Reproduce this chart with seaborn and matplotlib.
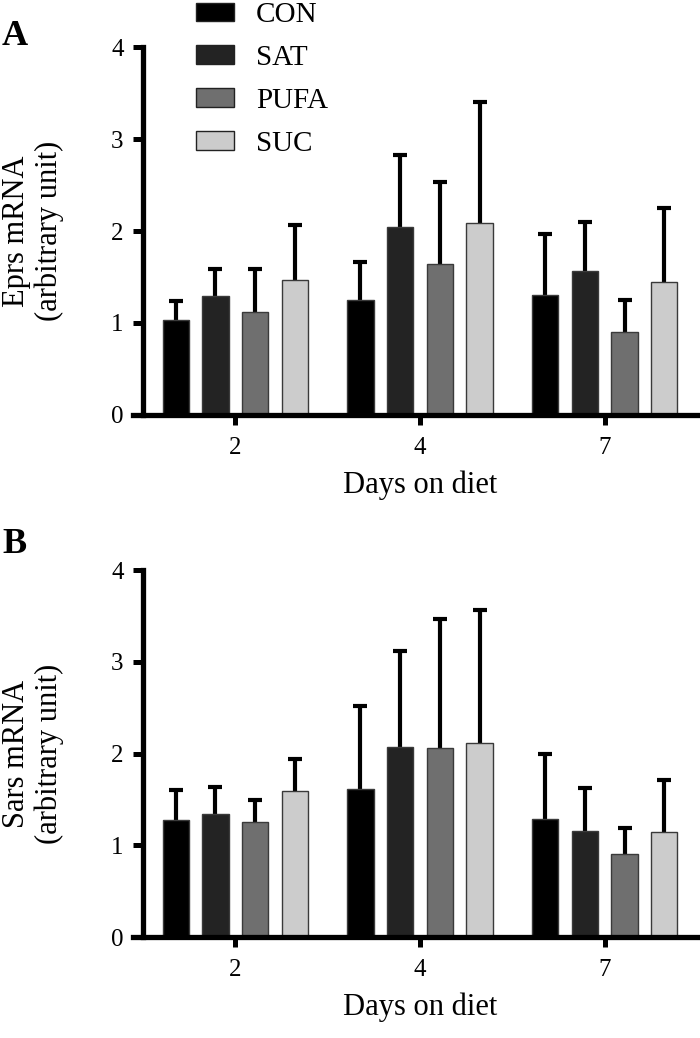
import numpy as np
import pandas as pd
import matplotlib
matplotlib.use('Agg')
import matplotlib.pyplot as plt
from matplotlib.patches import Patch
import seaborn as sns

# data (mean and upper error)
days = ['2', '4', '7']
groups = ['CON', 'SAT', 'PUFA', 'SUC']
colors = ['#000000', '#232323', '#6f6f6f', '#cccccc']

eprs_mean = {'CON': [1.03, 1.245, 1.30],
             'SAT': [1.29, 2.04, 1.56],
             'PUFA': [1.12, 1.64, 0.90],
             'SUC': [1.47, 2.09, 1.45]}
eprs_err = {'CON': [0.21, 0.42, 0.67],
            'SAT': [0.30, 0.79, 0.54],
            'PUFA': [0.47, 0.89, 0.35],
            'SUC': [0.59, 1.31, 0.80]}

sars_mean = {'CON': [1.28, 1.61, 1.29],
             'SAT': [1.34, 2.07, 1.16],
             'PUFA': [1.25, 2.06, 0.90],
             'SUC': [1.59, 2.11, 1.15]}
sars_err = {'CON': [0.32, 0.91, 0.71],
            'SAT': [0.30, 1.05, 0.46],
            'PUFA': [0.24, 1.41, 0.29],
            'SUC': [0.35, 1.45, 0.56]}

panels = [('A', 'Eprs mRNA\n(arbitrary unit)', eprs_mean, eprs_err),
          ('B', 'Sars mRNA\n(arbitrary unit)', sars_mean, sars_err)]

sns.set_style('ticks')
plt.rcParams['font.family'] = ['Liberation Serif', 'DejaVu Serif']
plt.rcParams.update({'axes.edgecolor': 'black', 'xtick.color': 'black',
                     'ytick.color': 'black', 'text.color': 'black',
                     'axes.labelcolor': 'black'})

fig = plt.figure(figsize=(7, 10.38), dpi=100)
ax_pos = [[0.2043, 0.6002, 0.7914, 0.3545],
          [0.2043, 0.0973, 0.7914, 0.3535]]
letter_y = [0.9566, 0.4672]

for i, (letter, ylab, means, errs) in enumerate(panels):
    ax = fig.add_axes(ax_pos[i])
    rows = []
    for g in groups:
        for d, m in zip(days, means[g]):
            rows.append({'day': d, 'group': g, 'value': m})
    df = pd.DataFrame(rows)

    sns.barplot(data=df, x='day', y='value', hue='group', order=days,
                hue_order=groups, palette=colors, errorbar=None,
                width=0.86, gap=0.34, edgecolor='#3a3a3a', linewidth=1,
                legend=False, ax=ax)
    bar_conts = list(ax.containers)

    # upper-only error bars, drawn behind the bars
    for cont, g in zip(bar_conts, groups):
        xs = [p.get_x() + p.get_width() / 2 for p in cont]
        ys = means[g]
        eb = ax.errorbar(xs, ys, yerr=[np.zeros(len(ys)), errs[g]], fmt='none',
                         ecolor='black', elinewidth=3, capsize=4.7, capthick=3,
                         zorder=1)
        eb[1][0].set_visible(False)  # no cap at the bar top
        for p in cont:
            p.set_zorder(2)

    ax.set_xlim(-0.5, 2.5)
    ax.set_ylim(0, 4)
    ax.set_yticks([0, 1, 2, 3, 4])
    sns.despine(ax=ax)
    for side in ['left', 'bottom']:
        ax.spines[side].set_linewidth(3.8)
    ax.spines['bottom'].set_bounds(-0.555, 2.5)
    ax.tick_params(axis='both', direction='out', length=7, width=3.6,
                   labelsize=18)
    ax.tick_params(axis='y', pad=7)
    ax.tick_params(axis='x', pad=9)
    ax.set_xlabel('Days on diet', fontsize=22)
    ax.set_ylabel(ylab, fontsize=22, linespacing=1.15)
    ax.xaxis.set_label_coords(0.5, -0.15)
    ax.yaxis.set_label_coords(-0.142, 0.5)

    fig.text(0.003, letter_y[i], letter, fontsize=26, fontweight='bold',
             va='baseline', ha='left')

handles = [Patch(facecolor=c, edgecolor='#222222', linewidth=1) for c in colors]
fig.legend(handles, groups, loc='upper left', bbox_to_anchor=(0.28, 0.998),
           frameon=False, fontsize=21, borderpad=0, borderaxespad=0,
           handlelength=1.3, handleheight=0.6, handletextpad=0.75,
           labelspacing=0.58)

fig.savefig('out.png', dpi=100)
